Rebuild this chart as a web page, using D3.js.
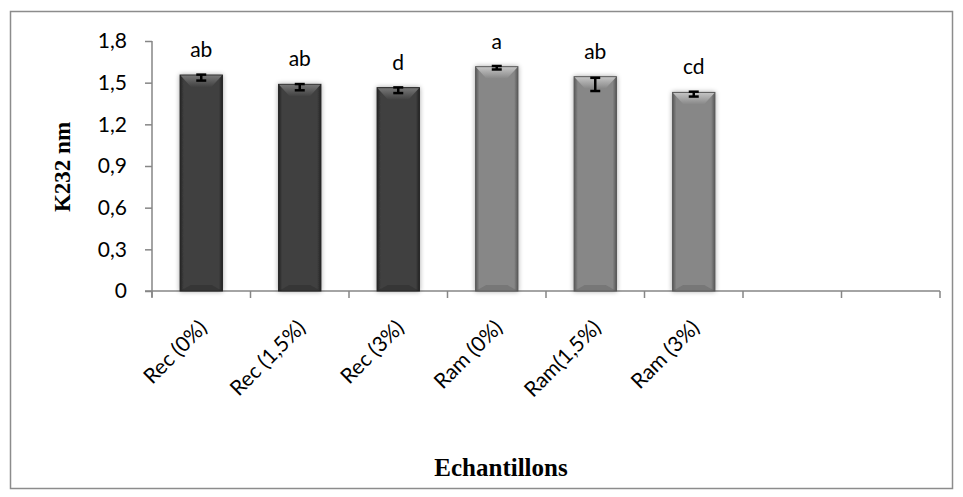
<!DOCTYPE html>
<html>
<head>
<meta charset="utf-8">
<script src="https://cdn.jsdelivr.net/npm/d3@7"></script>
<style>
body { margin: 0; background: #fff; }
svg { display: block; }
</style>
</head>
<body>
<svg width="963" height="497"></svg>
<script>
// data
var categories = ["Rec (0%)", "Rec (1,5%)", "Rec (3%)", "Ram (0%)", "Ram(1,5%)", "Ram (3%)"];
var slots = 8; // two empty categories on the right
var values = [1.555, 1.488, 1.464, 1.615, 1.543, 1.43];
var errLow = [1.515, 1.445, 1.425, 1.595, 1.44, 1.40];
var errHigh = [1.558, 1.49, 1.466, 1.62, 1.535, 1.435];
var letters = ["ab", "ab", "d", "a", "ab", "cd"];
var groups = ["Rec", "Rec", "Rec", "Ram", "Ram", "Ram"];
var yTicks = [0, 0.3, 0.6, 0.9, 1.2, 1.5, 1.8];

var svg = d3.select("svg");
var plotLeft = 152, plotRight = 940, plotTop = 41, plotBottom = 291;
var axisCol = "#868686";

// outer frame
svg.append("rect")
  .attr("x", 10.5).attr("y", 11.5)
  .attr("width", 942).attr("height", 477)
  .attr("fill", "none").attr("stroke", "#8c8c8c").attr("stroke-width", 1.5);

var defs = svg.append("defs");
var shadow = defs.append("filter").attr("id", "shadow")
  .attr("x", "-30%").attr("y", "-10%").attr("width", "160%").attr("height", "120%");
shadow.append("feGaussianBlur").attr("in", "SourceAlpha").attr("stdDeviation", 2.5).attr("result", "b");
shadow.append("feComponentTransfer").append("feFuncA").attr("type", "linear").attr("slope", 0.35);
var merge = shadow.append("feMerge");
merge.append("feMergeNode");
merge.append("feMergeNode").attr("in", "SourceGraphic");

var palette = {
  Rec: { edge: "#242424", body: "#414141", bevel: "#767676" },
  Ram: { edge: "#585858", body: "#878787", bevel: "#c4c4c4" }
};
Object.keys(palette).forEach(function(k) {
  var p = palette[k];
  var g = defs.append("linearGradient").attr("id", "body" + k).attr("x1", 0).attr("x2", 1).attr("y1", 0).attr("y2", 0);
  g.append("stop").attr("offset", "0%").attr("stop-color", p.edge);
  g.append("stop").attr("offset", "9%").attr("stop-color", p.body);
  g.append("stop").attr("offset", "91%").attr("stop-color", p.body);
  g.append("stop").attr("offset", "100%").attr("stop-color", p.edge);
  var b = defs.append("linearGradient").attr("id", "bevel" + k).attr("x1", 0).attr("x2", 0).attr("y1", 0).attr("y2", 1);
  b.append("stop").attr("offset", "0%").attr("stop-color", p.bevel);
  b.append("stop").attr("offset", "100%").attr("stop-color", p.body);
});

var x = d3.scaleBand().domain(d3.range(slots)).range([plotLeft, plotRight]).paddingInner(0.57).paddingOuter(0.285);
var xs = d3.scaleBand().domain(d3.range(slots)).range([plotLeft, plotRight]);
var y = d3.scaleLinear().domain([0, 1.8]).range([plotBottom, plotTop]);

// y axis
var yAxis = svg.append("g").attr("transform", "translate(" + plotLeft + ",0)")
  .call(d3.axisLeft(y).tickValues(yTicks).tickSize(7).tickPadding(18)
    .tickFormat(function(d) { return d === 0 ? "0" : d3.format(".1f")(d).replace(".", ","); }));
yAxis.select(".domain").attr("d", "M0," + plotTop + "V" + (plotBottom + 6)).attr("stroke", axisCol).attr("stroke-width", 1.5);
yAxis.selectAll("line").attr("stroke", axisCol).attr("stroke-width", 1.5);
yAxis.selectAll("text").attr("font-family", "Lato").attr("font-size", 21).attr("fill", "#000");

// x axis
var xAxis = svg.append("g").attr("transform", "translate(0," + plotBottom + ")");
xAxis.append("line").attr("x1", plotLeft - 7).attr("x2", plotRight).attr("stroke", axisCol).attr("stroke-width", 1.5);
xAxis.selectAll(".tk").data(d3.range(slots + 1)).enter().append("line")
  .attr("x1", function(i) { return i < slots ? xs(i) : plotRight; })
  .attr("x2", function(i) { return i < slots ? xs(i) : plotRight; })
  .attr("y1", 0).attr("y2", 7)
  .attr("stroke", axisCol).attr("stroke-width", 1.5);
xAxis.selectAll(".lab").data(categories).enter().append("text")
  .attr("transform", function(d, i) { return "translate(" + (xs(i) + xs.bandwidth() / 2 + 7) + "," + 38 + ") rotate(-45)"; })
  .attr("text-anchor", "end")
  .attr("font-family", "Lato").attr("font-size", 21)
  .text(function(d) { return d; });

// bars
var bars = svg.append("g");
values.forEach(function(v, i) {
  var g = groups[i], x0 = x(i), w = x.bandwidth(), y0 = y(v), h = y(0) - y(v);
  bars.append("rect")
    .attr("x", x0).attr("y", y0).attr("width", w).attr("height", h)
    .attr("fill", "url(#body" + g + ")")
    .attr("stroke", palette[g].edge).attr("stroke-width", 1)
    .attr("filter", "url(#shadow)");
  bars.append("path")
    .attr("d", "M" + (x0 + 0.5) + "," + (y0 + 0.5) + "L" + (x0 + w - 0.5) + "," + (y0 + 0.5) +
      "L" + (x0 + w * 0.74) + "," + (y0 + 12) + "L" + (x0 + w * 0.26) + "," + (y0 + 12) + "Z")
    .attr("fill", "url(#bevel" + g + ")");
  bars.append("path")
    .attr("d", "M" + (x0 + 1) + "," + (y(0) - 0.5) + "L" + (x0 + w - 1) + "," + (y(0) - 0.5) +
      "L" + (x0 + w * 0.75) + "," + (y(0) - 6) + "L" + (x0 + w * 0.25) + "," + (y(0) - 6) + "Z")
    .attr("fill", palette[g].edge).attr("opacity", 0.35);
});

// error bars
var err = svg.append("g").attr("stroke", "#000").attr("stroke-width", 2.5);
values.forEach(function(v, i) {
  var cx = x(i) + x.bandwidth() / 2;
  err.append("line").attr("x1", cx).attr("x2", cx).attr("y1", y(errLow[i])).attr("y2", y(errHigh[i]));
  err.append("line").attr("x1", cx - 5).attr("x2", cx + 5).attr("y1", y(errLow[i])).attr("y2", y(errLow[i]));
  err.append("line").attr("x1", cx - 5).attr("x2", cx + 5).attr("y1", y(errHigh[i])).attr("y2", y(errHigh[i]));
});

// significance letters
svg.append("g").selectAll("text").data(letters).enter().append("text")
  .attr("x", function(d, i) { return x(i) + x.bandwidth() / 2; })
  .attr("y", function(d, i) { return y(values[i]) - 18; })
  .attr("text-anchor", "middle")
  .attr("font-family", "Lato").attr("font-size", 21)
  .text(function(d) { return d; });

// axis titles
svg.append("text")
  .attr("transform", "translate(70,167) rotate(-90)")
  .attr("text-anchor", "middle")
  .attr("font-family", "Liberation Serif").attr("font-weight", "bold").attr("font-size", 23)
  .text("K232 nm");
svg.append("text")
  .attr("x", 501).attr("y", 476)
  .attr("text-anchor", "middle")
  .attr("font-family", "Liberation Serif").attr("font-weight", "bold").attr("font-size", 25)
  .text("Echantillons");
</script>
</body>
</html>
